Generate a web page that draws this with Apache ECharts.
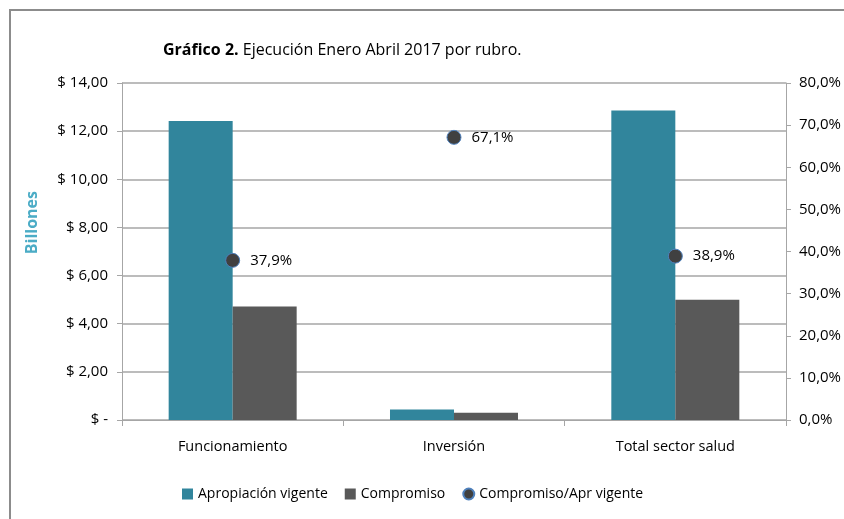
<!DOCTYPE html>
<html>
<head>
<meta charset="utf-8">
<script src="https://cdn.jsdelivr.net/npm/echarts@6/dist/echarts.min.js"></script>
<style>
  html, body { margin: 0; padding: 0; background: #fff; }
  #chart { width: 844px; height: 519px; }
</style>
</head>
<body>
<div id="chart"></div>
<script>
// categorias y valores (billones de pesos)
var rubros = ["Funcionamiento", "Inversión", "Total sector salud"];
var apropiacion = [12.42, 0.44, 12.86];
var compromiso = [4.71, 0.30, 5.00];
var porcentaje = [37.9, 67.1, 38.9];

var fuente = "'Open Sans', sans-serif";
var gris = "#a6a6a6";

var myChart = echarts.init(document.getElementById("chart"));

var option = {
  animation: false,
  textStyle: { fontFamily: fuente },
  title: {
    text: "{b|Gráfico 2.} Ejecución Enero Abril 2017 por rubro.",
    left: 158,
    top: 37,
    textStyle: {
      fontFamily: fuente,
      fontSize: 16,
      fontWeight: "normal",
      color: "#000",
      rich: {
        b: { fontFamily: fuente, fontSize: 16, fontWeight: "bold", color: "#000" }
      }
    }
  },
  graphic: [
    {
      type: "polyline",
      shape: { points: [[10, 519], [10, 10], [844, 10]] },
      style: { stroke: "#8c8c8c", lineWidth: 2, fill: null }
    },
    {
      type: "text",
      left: 24,
      top: 191,
      rotation: Math.PI / 2,
      style: {
        text: "Billones",
        fontFamily: fuente,
        fontSize: 16,
        fontWeight: "bold",
        fill: "#4bacc6"
      }
    }
  ],
  legend: {
    bottom: 13,
    left: 177,
    itemGap: 17,
    itemWidth: 11,
    itemHeight: 11,
    textStyle: { fontFamily: fuente, fontSize: 14, color: "#000" },
    data: [
      { name: "Apropiación vigente", icon: "rect" },
      { name: "Compromiso", icon: "rect" },
      { name: "Compromiso/Apr vigente", icon: "circle" }
    ]
  },
  grid: { left: 122, right: 56, top: 83, bottom: 99 },
  xAxis: {
    type: "category",
    data: rubros,
    axisLine: { lineStyle: { color: gris } },
    axisTick: { show: true, length: 6, lineStyle: { color: gris } },
    axisLabel: { color: "#000", fontSize: 14.5, margin: 19, fontFamily: fuente }
  },
  yAxis: [
    {
      type: "value",
      min: 0,
      max: 14,
      interval: 2,
      axisLine: { show: true, lineStyle: { color: gris } },
      axisTick: { show: true, length: 5, lineStyle: { color: gris } },
      splitLine: { lineStyle: { color: gris, width: 1.5 } },
      axisLabel: {
        color: "#000",
        fontSize: 15,
        margin: 14,
        fontFamily: fuente,
        formatter: function (v) {
          return v === 0 ? "$ -" : "$ " + v.toFixed(2).replace(".", ",");
        }
      }
    },
    {
      type: "value",
      min: 0,
      max: 80,
      interval: 10,
      axisLine: { show: true, lineStyle: { color: gris } },
      axisTick: { show: true, length: 5, lineStyle: { color: gris } },
      splitLine: { show: false },
      axisLabel: {
        color: "#000",
        fontSize: 15,
        margin: 13,
        fontFamily: fuente,
        formatter: function (v) {
          return v.toFixed(1).replace(".", ",") + "%";
        }
      }
    }
  ],
  series: [
    {
      name: "Apropiación vigente",
      type: "bar",
      data: apropiacion,
      barWidth: 64,
      barGap: "0%",
      itemStyle: { color: "#31859c" }
    },
    {
      name: "Compromiso",
      type: "bar",
      data: compromiso,
      barWidth: 64,
      barGap: "0%",
      itemStyle: { color: "#595959" }
    },
    {
      name: "Compromiso/Apr vigente",
      type: "line",
      yAxisIndex: 1,
      data: porcentaje,
      symbol: "circle",
      symbolSize: 14,
      lineStyle: { width: 0, opacity: 0 },
      itemStyle: { color: "#404040", borderColor: "#4f81bd", borderWidth: 1 },
      label: {
        show: true,
        position: "right",
        distance: 10,
        color: "#000",
        fontSize: 15,
        fontFamily: fuente,
        formatter: function (p) {
          return p.value.toFixed(1).replace(".", ",") + "%";
        }
      }
    }
  ]
};

myChart.setOption(option);
</script>
</body>
</html>
